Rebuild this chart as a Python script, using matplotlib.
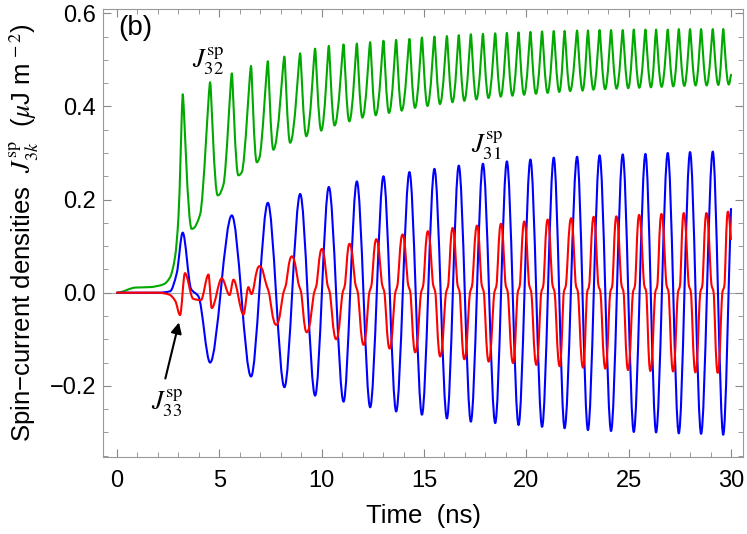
import numpy as np
import matplotlib
matplotlib.use("Agg")
import matplotlib.pyplot as plt
from matplotlib.path import Path
from matplotlib.patches import PathPatch
from matplotlib.ticker import MultipleLocator, FuncFormatter

# times (ns) of the J31 extrema, peak / trough alternating; J32 spikes sit on them too
t_ext = [3.21, 4.55, 5.61, 6.55, 7.37, 8.18, 8.95, 9.68, 10.35, 11.07, 11.72, 12.37,
         13.02, 13.64, 14.29, 14.90, 15.51, 16.12, 16.70, 17.29, 17.88, 18.48, 19.05,
         19.62, 20.20, 20.77, 21.34, 21.87, 22.48, 23.01, 23.58, 24.14, 24.71, 25.25,
         25.82, 26.34, 26.91, 27.45, 28.00, 28.54, 29.11, 29.62]

# J31 (blue)
j31_ext = [0.129, -0.150, 0.166, -0.180, 0.193, -0.203, 0.212, -0.221, 0.227, -0.234,
           0.239, -0.246, 0.250, -0.255, 0.259, -0.262, 0.266, -0.270, 0.273, -0.277,
           0.277, -0.280, 0.282, -0.284, 0.286, -0.288, 0.290, -0.291, 0.292, -0.295,
           0.295, -0.297, 0.297, -0.299, 0.298, -0.300, 0.300, -0.302, 0.302, -0.303,
           0.303, -0.305]
j31_start_t = [0.0, 2.0, 2.59, 2.92]
j31_start_v = [0.0, 0.0, 0.003, 0.042]
j31_shoulder_t = [3.62, 3.98]
j31_shoulder_v = [0.008, -0.008]
j31_end = (30.0, 0.18)

# J32 (green)
j32_peak = [0.426, 0.452, 0.471, 0.487, 0.497, 0.507, 0.514, 0.524, 0.530, 0.533,
            0.535, 0.538, 0.541, 0.543, 0.545, 0.548, 0.550, 0.551, 0.553, 0.555,
            0.556, 0.557, 0.558, 0.559, 0.560, 0.561, 0.562, 0.562, 0.563, 0.563,
            0.564, 0.564, 0.564, 0.565, 0.565, 0.565, 0.565, 0.566, 0.566, 0.566,
            0.566, 0.566]
j32_min_t = [3.65, 4.92, 5.93, 6.83, 7.64, 8.46, 9.25, 9.98, 10.63, 11.35, 11.99, 12.64,
             13.29, 13.91, 14.56, 15.17, 15.78, 16.39, 16.97, 17.56, 18.15, 18.75, 19.32,
             19.89, 20.47, 21.04, 21.61, 22.14, 22.75, 23.28, 23.85, 24.41, 24.98, 25.52,
             26.09, 26.61, 27.18, 27.72, 28.27, 28.81, 29.38, 29.89]
j32_min_v = [0.137, 0.209, 0.252, 0.280, 0.307, 0.322, 0.336, 0.348, 0.359, 0.368,
             0.376, 0.381, 0.386, 0.391, 0.397, 0.401, 0.405, 0.409, 0.412, 0.415,
             0.418, 0.421, 0.423, 0.425, 0.427, 0.429, 0.431, 0.433, 0.434, 0.436,
             0.437, 0.438, 0.439, 0.440, 0.441, 0.442, 0.443, 0.444, 0.445, 0.445,
             0.446, 0.447]
j32_shoulder_t = [4.06, 5.20, 6.10, 6.96]
j32_shoulder_v = [0.168, 0.232, 0.259, 0.290]
j32_start_t = [0.0, 0.9, 1.6, 2.27, 2.59, 2.84, 3.0]
j32_start_v = [0.0, 0.011, 0.012, 0.018, 0.033, 0.078, 0.16]
j32_end = (30.0, 0.468)

# J33 (red)
j33_early_t = [0.0, 2.0, 2.55, 2.85, 3.08, 3.32, 3.72, 4.10, 4.47, 4.63, 5.12, 5.50,
               5.69, 6.18, 6.42, 6.57]
j33_early_v = [0.0, 0.0, -0.004, -0.018, -0.048, 0.042, -0.013, -0.016, 0.039, -0.033,
               0.031, -0.005, 0.028, -0.047, 0.012, -0.003]
j33_peak_t = [6.96, 8.54, 10.01, 11.36, 12.67, 13.95, 15.19, 16.40, 17.59, 18.76, 19.90,
              21.04, 22.19, 23.29, 24.40, 25.51, 26.60, 27.69, 28.80, 29.85]
j33_peak_v = [0.057, 0.078, 0.094, 0.105, 0.115, 0.125, 0.132, 0.139, 0.144, 0.148,
              0.153, 0.157, 0.160, 0.163, 0.164, 0.167, 0.169, 0.171, 0.171, 0.174]
j33_trough_t = [7.78, 9.27, 10.71, 12.05, 13.32, 14.57, 15.79, 16.97, 18.16, 19.35,
                20.49, 21.63, 22.77, 23.86, 24.97, 26.06, 27.17, 28.26, 29.35]
j33_trough_v = [-0.069, -0.085, -0.100, -0.112, -0.120, -0.128, -0.137, -0.143, -0.148,
                -0.151, -0.155, -0.158, -0.161, -0.163, -0.166, -0.168, -0.169, -0.171,
                -0.172]
j33_end = (30.0, 0.115)


def slopes(t, v):
    t = np.asarray(t, float)
    v = np.asarray(v, float)
    h = np.diff(t)
    dl = np.diff(v) / h
    d = np.zeros(len(t))
    for i in range(1, len(t) - 1):
        if dl[i - 1] * dl[i] > 0:
            w1 = 2 * h[i] + h[i - 1]
            w2 = h[i] + 2 * h[i - 1]
            d[i] = (w1 + w2) / (w1 / dl[i - 1] + w2 / dl[i])
    d[-1] = dl[-1]
    return d


def draw_curve(ax, knots, color):
    knots = sorted(knots)
    t = [k[0] for k in knots]
    v = [k[1] for k in knots]
    hf = [k[2] for k in knots]
    d = slopes(t, v)
    verts = [(t[0], v[0])]
    codes = [Path.MOVETO]
    for i in range(len(t) - 1):
        dt = t[i + 1] - t[i]
        a = hf[i] * dt
        b = hf[i + 1] * dt
        verts += [(t[i] + a, v[i] + a * d[i]),
                  (t[i + 1] - b, v[i + 1] - b * d[i + 1]),
                  (t[i + 1], v[i + 1])]
        codes += [Path.CURVE4] * 3
    ax.add_patch(PathPatch(Path(verts, codes), facecolor="none", edgecolor=color,
                           lw=1.5, joinstyle="round", capstyle="round", zorder=3))


third = 1 / 3

blue = [(a, b, third) for a, b in zip(j31_start_t, j31_start_v)]
blue += [(a, b, third) for a, b in zip(j31_shoulder_t, j31_shoulder_v)]
blue += [(a, b, third) for a, b in zip(t_ext, j31_ext)]
blue.append((*j31_end, third))

green = [(a, b, third) for a, b in zip(j32_start_t, j32_start_v)]
green += [(a, b, 0.15) for a, b in zip(t_ext, j32_peak)]
green += [(a, b, 0.45) for a, b in zip(j32_min_t, j32_min_v)]
green += [(a, b, third) for a, b in zip(j32_shoulder_t, j32_shoulder_v)]
green.append((*j32_end, third))

red = [(a, b, third) for a, b in zip(j33_early_t, j33_early_v)]
red += [(a, b, 0.5) for a, b in zip(j33_peak_t, j33_peak_v)]
red += [(a, b, 0.5) for a, b in zip(j33_trough_t, j33_trough_v)]
# short kinks of J33 just above zero at every J31 extremum from 7.37 ns on
for i in range(4, len(t_ext)):
    tk = t_ext[i]
    if i % 2 == 0:
        red += [(tk - 0.05, 0.014, third), (tk + 0.03, 0.004, third)]
    else:
        red += [(tk - 0.03, 0.003, third), (tk + 0.05, 0.013, third)]
red.append((*j33_end, third))

plt.rcParams["font.family"] = ["Liberation Sans", "DejaVu Sans"]
plt.rcParams["mathtext.fontset"] = "stix"

fig = plt.figure(figsize=(7.47, 5.34), dpi=100)
ax = fig.add_axes([0.138, 0.144, 0.857, 0.839])

ax.axhline(0, color="#aaaaaa", lw=0.8, zorder=1)
draw_curve(ax, green, "#00a800")
draw_curve(ax, blue, "#0000ff")
draw_curve(ax, red, "#ff0000")

ax.set_xlim(-0.68, 30.6)
ax.set_ylim(-0.353, 0.609)
ax.set_xticks(range(0, 31, 5))
ax.xaxis.set_minor_locator(MultipleLocator(1))
ax.set_yticks([-0.2, 0.0, 0.2, 0.4, 0.6])
ax.yaxis.set_minor_locator(MultipleLocator(0.05))
ax.yaxis.set_major_formatter(FuncFormatter(lambda y, p: f"{y:.1f}".replace("-", "\u2212")))
ax.tick_params(which="both", direction="in", top=True, right=True, color="#888888",
               labelsize=17)
ax.tick_params(axis="x", pad=9)
ax.tick_params(axis="y", pad=5)
ax.tick_params(which="major", length=6)
ax.tick_params(which="minor", length=3.5)
for s in ax.spines.values():
    s.set_color("#999999")

ax.set_xlabel("Time  (ns)", fontsize=18.5, labelpad=9)
ax.set_ylabel("Spin\u2212current densities  $J^{\\rm sp}_{3k}$  ($\\mu$J m$^{\\,-2}$)",
              fontsize=18.5, labelpad=6)

ax.text(0.05, 0.597, "(b)", fontsize=20, va="top", ha="left")
ax.text(4.45, 0.497, "$J^{\\rm sp}_{32}$", fontsize=19, ha="center", va="center")
ax.text(18.1, 0.316, "$J^{\\rm sp}_{31}$", fontsize=19, ha="center", va="center")
ax.text(2.45, -0.237, "$J^{\\rm sp}_{33}$", fontsize=19, ha="center", va="center")
ax.annotate("", xy=(3.06, -0.058), xytext=(2.33, -0.19),
            arrowprops=dict(arrowstyle="-|>", color="black", lw=1.5, mutation_scale=16))

fig.savefig("out.png", dpi=100)
